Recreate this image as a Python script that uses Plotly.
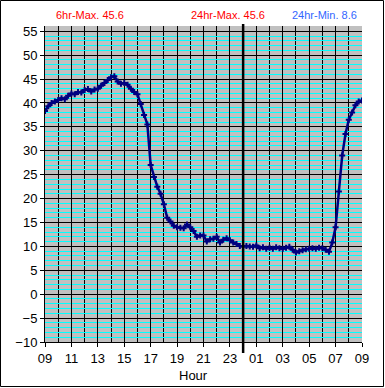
import plotly.graph_objects as go

# hours since 09:00 (15-minute steps) and temperature readings
hours = [i * 0.25 for i in range(97)]
temps = [
    38.3, 39.3, 40.0, 40.3, 40.6, 41.0, 40.8, 41.5,   # 09:00-10:45
    42.0, 41.8, 42.3, 42.2, 42.7, 42.9, 42.4, 42.8,   # 11:00-12:45
    43.0, 43.6, 44.2, 44.8, 45.4, 45.6, 44.5, 44.0,   # 13:00-14:45
    44.2, 43.8, 43.0, 42.3, 41.8, 39.8, 37.5, 35.5,   # 15:00-16:45
    27.0, 24.5, 22.5, 21.0, 18.8, 16.0, 15.2, 14.3,   # 17:00-18:45
    14.0, 13.9, 13.8, 14.6, 14.0, 13.2, 12.0, 12.3,   # 19:00-20:45
    12.3, 11.0, 11.5, 11.6, 12.0, 10.8, 11.4, 11.7,   # 21:00-22:45
    11.3, 10.8, 10.5, 10.1, 10.0, 10.1, 10.0, 9.9,    # 23:00-00:45
    10.2, 9.6, 9.8, 9.5, 9.7, 9.5, 9.8, 9.6,          # 01:00-02:45
    9.5, 9.7, 9.9, 9.3, 8.7, 9.0, 9.2, 9.4,           # 03:00-04:45
    9.5, 9.6, 9.5, 9.7, 9.6, 9.3, 8.9, 10.8,          # 05:00-06:45
    14.0, 21.5, 29.0, 33.5, 36.5, 38.0, 39.5, 40.3,   # 07:00-08:45
    40.5,                                              # 09:00
]

tick_vals = list(range(0, 25, 2))
tick_text = ["09", "11", "13", "15", "17", "19", "21", "23",
             "01", "03", "05", "07", "09"]
midnight = 15

W, H = 385, 388
L, R, T, B = 45, 23, 26, 46
pw, ph = W - L - R, H - T - B

def px_x(p):
    return (p - L) / pw

def px_y(p):
    return (H - B - p) / ph

fig = go.Figure()
fig.add_trace(go.Scatter(
    x=hours, y=temps, mode="lines+markers",
    line=dict(color="#000080", width=2.5),
    marker=dict(color="#000080", size=5, symbol="cross"),
    hoverinfo="skip", showlegend=False,
))

fig.update_layout(
    width=W, height=H,
    margin=dict(l=L, r=R, t=T, b=B),
    paper_bgcolor="white",
    plot_bgcolor="#C0C0C0",
    font=dict(family="Liberation Sans, Arial, sans-serif", size=13, color="black"),
    xaxis=dict(
        range=[0, 24], tickvals=tick_vals, ticktext=tick_text,
        ticks="outside", ticklen=4, tickcolor="black",
        showgrid=True, gridcolor="black", gridwidth=1,
        minor=dict(dtick=1, tick0=0, showgrid=True, gridcolor="black", gridwidth=1),
        showline=True, linecolor="black", linewidth=1,
        zeroline=False, fixedrange=True,
        tickfont=dict(size=13),
    ),
    yaxis=dict(
        range=[-10, 56.1], tick0=-10, dtick=5,
        ticks="outside", ticklen=4, tickcolor="black",
        showgrid=True, gridcolor="black", gridwidth=1,
        minor=dict(dtick=1, tick0=0, showgrid=True, gridcolor="#00FFFF", gridwidth=1),
        showline=True, linecolor="black", linewidth=1,
        zeroline=False, fixedrange=True,
        tickfont=dict(size=13),
    ),
    shapes=[
        dict(type="line", xref="x", yref="paper", x0=midnight, x1=midnight,
             y0=px_y(353), y1=px_y(24), line=dict(color="black", width=2.5)),
        dict(type="rect", xref="paper", yref="paper",
             x0=px_x(0.5), x1=px_x(383.5), y0=px_y(386.5), y1=px_y(0.5),
             line=dict(color="black", width=1), layer="below"),
    ],
    annotations=[
        dict(text="6hr-Max. 45.6", xref="paper", yref="paper", x=px_x(54), y=px_y(15),
             xanchor="left", yanchor="middle", showarrow=False,
             font=dict(size=11, color="#FF0000")),
        dict(text="24hr-Max. 45.6", xref="paper", yref="paper", x=px_x(228), y=px_y(15),
             xanchor="center", yanchor="middle", showarrow=False,
             font=dict(size=11, color="#FF0000")),
        dict(text="24hr-Min. 8.6", xref="paper", yref="paper", x=px_x(324), y=px_y(15),
             xanchor="center", yanchor="middle", showarrow=False,
             font=dict(size=11, color="#3366FF")),
        dict(text="Hour", xref="paper", yref="paper", x=px_x(193), y=px_y(376),
             xanchor="center", yanchor="middle", showarrow=False,
             font=dict(size=13, color="black")),
    ],
)

fig.write_html(
    "out.html",
    config={"displayModeBar": False, "staticPlot": True},
    post_script="document.body.style.margin='0';document.body.style.overflow='hidden';",
)
